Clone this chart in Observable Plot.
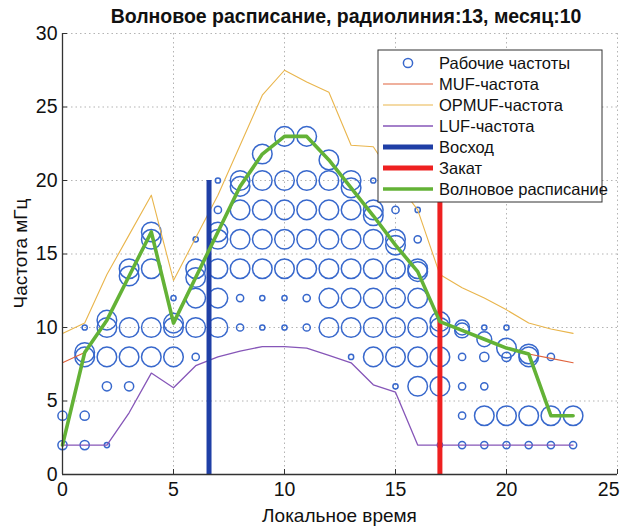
<!DOCTYPE html>
<html>
<head>
<meta charset="utf-8">
<script src="https://cdn.jsdelivr.net/npm/d3@7"></script>
<script src="https://cdn.jsdelivr.net/npm/@observablehq/plot@0.6"></script>
<style>
  html, body { margin: 0; padding: 0; background: #fff; }
  #chart { width: 626px; height: 527px; }
</style>
</head>
<body>
<div id="chart"></div>
<script>
// Hourly propagation forecast for one radio link (local time, hours 0..23)
const hours = d3.range(0, 24);

// Chosen operating frequency per hour (wave schedule), MHz
const schedule = [2.0, 8.3, 10.5, 13.5, 16.5, 10.3, 13.4, 16.5, 19.6, 21.8, 23.0, 23.0,
                  21.4, 19.5, 17.6, 15.6, 13.8, 10.4, 9.8, 9.2, 8.6, 8.2, 4.0, 4.0];
// Reliability class of the scheduled frequency (1 = lowest, 5 = highest)
const scheduleLevel = [3, 5, 5, 5, 5, 5, 5, 5, 5, 5, 5, 5, 5, 5, 5, 5, 5, 5, 4, 4, 5, 5, 5, 5];

// Maximum usable frequency, MHz
const muf = [7.6, 8.3, 10.5, 13.5, 16.5, 10.3, 13.4, 16.5, 19.6, 21.8, 23.0, 23.0,
             21.4, 19.5, 17.6, 15.6, 13.8, 10.4, 9.8, 9.2, 8.6, 8.2, 7.9, 7.6];
// Optimum (OPMUF) frequency, MHz
const opmuf = [9.6, 10.3, 13.6, 16.3, 19.0, 13.2, 16.1, 19.0, 22.4, 25.8, 27.5, 26.7,
               26.0, 22.4, 22.3, 20.0, 18.0, 13.6, 12.7, 12.0, 11.2, 10.3, 9.9, 9.6];
// Lowest usable frequency, MHz
const luf = [2.0, 2.0, 2.0, 4.2, 6.9, 5.9, 7.4, 8.0, 8.4, 8.7, 8.7, 8.6,
             8.1, 7.6, 6.1, 5.6, 2.0, 2.0, 2.0, 2.0, 2.0, 2.0, 2.0, 2.0];

// Working frequencies available in each hour, MHz
const workFreqs = [
  [4],
  [2, 4, 8, 10],
  [2, 6, 8, 10],
  [6, 8, 10, 14],
  [8, 10, 14, 16],
  [8, 10, 12],
  [8, 10, 12, 14, 16],
  [10, 12, 14, 16, 18, 20],
  [10, 12, 14, 16, 18, 20],
  [10, 12, 14, 16, 18, 20],
  [10, 12, 14, 16, 18, 20],
  [10, 12, 14, 16, 18, 20],
  [10, 12, 14, 16, 18, 20],
  [8, 10, 12, 14, 16, 18, 20],
  [8, 10, 12, 14, 16, 18, 20],
  [6, 8, 10, 12, 14, 16, 18],
  [6, 8, 10, 12, 14, 16, 18],
  [2, 6, 8, 10],
  [2, 4, 6, 8, 10],
  [2, 4, 6, 8, 10],
  [2, 4, 8, 10],
  [2, 4, 8],
  [2, 8],
  [2]
];
// Reliability class of each working frequency
const workLevels = [
  [3],
  [3, 3, 5, 1],
  [1, 3, 5, 5],
  [3, 5, 5, 5],
  [5, 5, 5, 5],
  [5, 5, 1],
  [2, 5, 5, 5, 1],
  [5, 5, 5, 5, 2, 1],
  [2, 2, 5, 5, 5, 5],
  [1, 1, 5, 5, 5, 5],
  [1, 1, 5, 5, 5, 5],
  [2, 2, 5, 5, 5, 5],
  [5, 5, 5, 5, 5, 5],
  [1, 5, 5, 5, 5, 5, 5],
  [5, 5, 5, 5, 5, 5, 1],
  [1, 5, 5, 5, 5, 5, 2],
  [5, 5, 5, 5, 5, 2, 1],
  [1, 5, 5, 5],
  [2, 2, 2, 2, 4],
  [2, 5, 2, 3, 1],
  [2, 5, 3, 1],
  [2, 5, 5],
  [2, 2],
  [2]
];

// Sunrise and sunset, local hours
const sunrise = 6.6;
const sunset = 17.0;
const sunMarkTop = 20;

const xTicks = [0, 5, 10, 15, 20, 25];
const yTicks = [0, 5, 10, 15, 20, 25, 30];

const titleText = "Волновое расписание, радиолиния:13, месяц:10";
const xLabel = "Локальное время";
const yLabel = "Частота мГц";
const legendLabels = ["Рабочие частоты", "MUF-частота", "OPMUF-частота", "LUF-частота",
                      "Восход", "Закат", "Волновое расписание"];

// ---- styling ----
const C = {
  dot: "#3868cc",
  muf: "#e0623c",
  opmuf: "#e9b54c",
  luf: "#8656b8",
  rise: "#1f3fa6",
  set: "#ee2020",
  sched: "#63b236",
  axis: "#333",
  grid: "#777"
};
const radius = [0, 2.6, 3.6, 4.6, 7.4, 9.8];

const work = hours.flatMap(h => workFreqs[h].map((f, i) => ({hour: h, freq: f, level: workLevels[h][i]})));
const sched = hours.map(h => ({hour: h, freq: schedule[h], level: scheduleLevel[h]}));

const W = 626, H = 527;
const mL = 62, mR = 9, mT = 33, mB = 53;
const font = "Liberation Sans, Arial, sans-serif";
const lastX = xTicks[xTicks.length - 1];

const chart = Plot.plot({
  width: W,
  height: H,
  marginLeft: mL,
  marginRight: mR,
  marginTop: mT,
  marginBottom: mB,
  style: {fontFamily: font, fontSize: "19.5px", color: "#111", background: "#fff"},
  x: {domain: [0, 25], label: null},
  y: {domain: [0, 30], label: null},
  r: {type: "identity"},
  marks: [
    Plot.gridX(xTicks.slice(1), {stroke: C.grid, strokeOpacity: 0.55, strokeDasharray: "1.5,3"}),
    Plot.gridY(yTicks.slice(1), {stroke: C.grid, strokeOpacity: 0.55, strokeDasharray: "1.5,3"}),
    Plot.dot(work, {x: "hour", y: "freq", r: d => radius[d.level], stroke: C.dot, strokeWidth: 1.5, fill: "none"}),
    Plot.dot(sched, {x: "hour", y: "freq", r: d => radius[d.level], stroke: C.dot, strokeWidth: 1.5, fill: "none"}),
    Plot.line(hours, {x: h => h, y: h => muf[h], stroke: C.muf, strokeWidth: 1.1}),
    Plot.line(hours, {x: h => h, y: h => opmuf[h], stroke: C.opmuf, strokeWidth: 1.1}),
    Plot.line(hours, {x: h => h, y: h => luf[h], stroke: C.luf, strokeWidth: 1.3}),
    Plot.ruleX([sunrise], {y1: 0, y2: sunMarkTop, stroke: C.rise, strokeWidth: 5}),
    Plot.ruleX([sunset], {y1: 0, y2: sunMarkTop, stroke: C.set, strokeWidth: 5}),
    Plot.line(sched, {x: "hour", y: "freq", stroke: C.sched, strokeWidth: 3.6}),
    Plot.ruleX([0], {stroke: C.axis, strokeWidth: 1.3}),
    Plot.ruleY([0], {stroke: C.axis, strokeWidth: 1.3}),
    Plot.axisX(xTicks, {tickSize: -5, tickPadding: 13, stroke: C.axis, fill: "#111",
                        tickFormat: d => d === lastX ? "" : d}),
    // the last tick label sits flush against the right edge
    Plot.text([lastX], {x: d => d, frameAnchor: "bottom", text: d => String(d),
                        textAnchor: "end", lineAnchor: "top", dy: 8, dx: 2, fill: "#111"}),
    Plot.axisY(yTicks, {tickSize: -5, tickPadding: 10, stroke: C.axis, fill: "#111"})
  ]
});

document.getElementById("chart").appendChild(chart);

// ---- title, axis labels and legend ----
const svg = d3.select(chart);

svg.append("text")
  .attr("x", 346).attr("y", 23)
  .attr("text-anchor", "middle")
  .attr("font-family", font).attr("font-size", 19.5).attr("font-weight", "bold")
  .attr("fill", "#111")
  .text(titleText);

svg.append("text")
  .attr("x", (mL + W - mR) / 2).attr("y", 522)
  .attr("text-anchor", "middle")
  .attr("font-family", font).attr("font-size", 19)
  .attr("fill", "#111")
  .text(xLabel);

svg.append("text")
  .attr("transform", `translate(27,${(mT + H - mB) / 2}) rotate(-90)`)
  .attr("text-anchor", "middle")
  .attr("font-family", font).attr("font-size", 19)
  .attr("fill", "#111")
  .text(yLabel);

const lg = svg.append("g").attr("font-family", font).attr("font-size", 16.5).attr("text-anchor", "start");
const lgX = 378, lgY = 50, lgW = 224, lgH = 152, rowStep = 21, row0 = 63;
lg.append("rect").attr("x", lgX).attr("y", lgY).attr("width", lgW).attr("height", lgH)
  .attr("fill", "#fff").attr("stroke", "#333").attr("stroke-width", 1);
const legendStyles = [
  {kind: "dot"},
  {kind: "line", color: C.muf, w: 1.1},
  {kind: "line", color: C.opmuf, w: 1.1},
  {kind: "line", color: C.luf, w: 1.3},
  {kind: "line", color: C.rise, w: 5},
  {kind: "line", color: C.set, w: 5},
  {kind: "line", color: C.sched, w: 3.6}
];
legendLabels.forEach((label, i) => {
  const y = row0 + i * rowStep;
  const s = legendStyles[i];
  if (s.kind === "dot") {
    lg.append("circle").attr("cx", 408).attr("cy", y).attr("r", 4.6)
      .attr("fill", "none").attr("stroke", C.dot).attr("stroke-width", 1.5);
  } else {
    lg.append("line").attr("x1", 383).attr("x2", 433).attr("y1", y).attr("y2", y)
      .attr("stroke", s.color).attr("stroke-width", s.w);
  }
  lg.append("text").attr("x", 439).attr("y", y).attr("dy", "0.36em")
    .attr("text-anchor", "start")
    .attr("fill", "#111").text(label);
});
</script>
</body>
</html>
